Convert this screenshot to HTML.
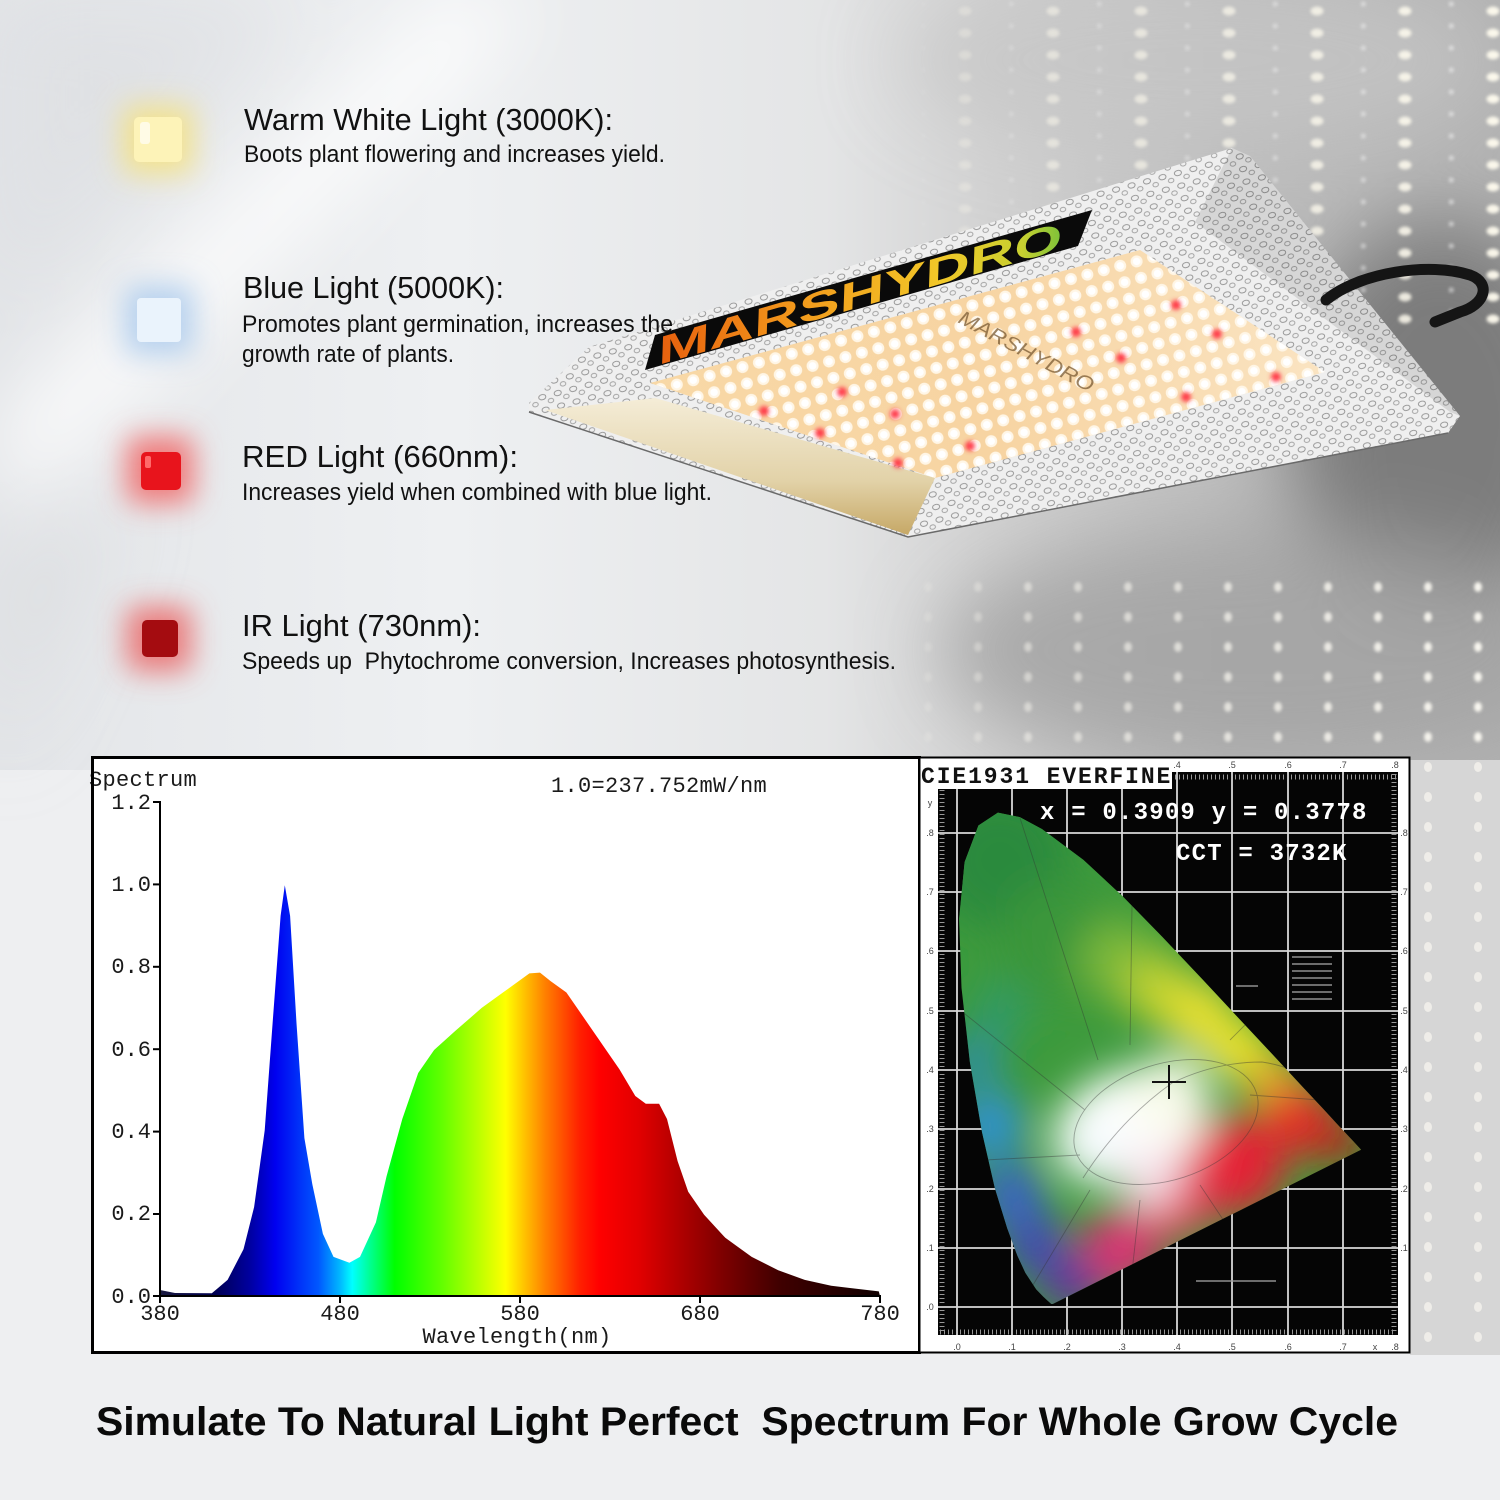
<!DOCTYPE html>
<html><head><meta charset="utf-8">
<style>
html,body{margin:0;padding:0;width:1500px;height:1500px;overflow:hidden;background:#eceef0;}
svg{display:block}
</style></head><body>
<svg width="1500" height="1500" viewBox="0 0 1500 1500" xmlns="http://www.w3.org/2000/svg">
<defs>
  <linearGradient id="bgH" x1="0" y1="0" x2="1500" y2="0" gradientUnits="userSpaceOnUse">
    <stop offset="0" stop-color="#e3e5e8"/>
    <stop offset="0.3" stop-color="#eef0f2"/>
    <stop offset="0.55" stop-color="#e4e5e6"/>
    <stop offset="0.66" stop-color="#d2d2d2"/>
    <stop offset="0.82" stop-color="#bdbdbd"/>
    <stop offset="1" stop-color="#b2b2b2"/>
  </linearGradient>
  <filter id="b40" x="-50%" y="-50%" width="200%" height="200%"><feGaussianBlur stdDeviation="40"/></filter>
  <filter id="b20" x="-50%" y="-50%" width="200%" height="200%"><feGaussianBlur stdDeviation="20"/></filter>
  <filter id="b15" x="-50%" y="-50%" width="200%" height="200%"><feGaussianBlur stdDeviation="14"/></filter>
  <filter id="b3" x="-50%" y="-50%" width="200%" height="200%"><feGaussianBlur stdDeviation="2.5"/></filter>
  <filter id="b1" x="-50%" y="-50%" width="200%" height="200%"><feGaussianBlur stdDeviation="1.5"/></filter>

  <pattern id="bok" width="88" height="22" patternUnits="userSpaceOnUse" patternTransform="translate(921,0)">
    <ellipse cx="44" cy="11" rx="6.5" ry="4.5" fill="#fffcef"/>
    <ellipse cx="2" cy="4" rx="3" ry="2.5" fill="#fafafa" opacity="0.6"/>
  </pattern>
  <pattern id="bok2" width="50" height="30" patternUnits="userSpaceOnUse" patternTransform="translate(1103,2)">
    <ellipse cx="25" cy="15" rx="4" ry="5" fill="#fffdf5"/>
  </pattern>
  <linearGradient id="fadeL" x1="870" y1="0" x2="1500" y2="0" gradientUnits="userSpaceOnUse">
    <stop offset="0" stop-color="#fff" stop-opacity="0"/>
    <stop offset="0.25" stop-color="#fff" stop-opacity="0.5"/>
    <stop offset="1" stop-color="#fff" stop-opacity="1"/>
  </linearGradient>
  <mask id="mR"><rect x="0" y="0" width="1500" height="760" fill="url(#fadeL)"/></mask>

  <pattern id="ham" width="16" height="13" patternUnits="userSpaceOnUse" patternTransform="rotate(-15)">
    <rect width="16" height="13" fill="#efefef"/>
    <ellipse cx="5" cy="4" rx="3.6" ry="2.6" fill="none" stroke="#8e8e8e" stroke-width="0.9"/>
    <ellipse cx="12.5" cy="9.5" rx="2.8" ry="2.2" fill="none" stroke="#9c9c9c" stroke-width="0.9"/>
  </pattern>
  <linearGradient id="boardG" x1="650" y1="380" x2="1320" y2="300" gradientUnits="userSpaceOnUse">
    <stop offset="0" stop-color="#f8d8a6"/>
    <stop offset="0.5" stop-color="#f7d4a2"/>
    <stop offset="1" stop-color="#fae4c2"/>
  </linearGradient>
  <pattern id="led" width="17" height="17" patternUnits="userSpaceOnUse" patternTransform="translate(650,383) rotate(-15)">
    <circle cx="8.5" cy="8.5" r="6" fill="#fff6e6"/>
    <circle cx="8.5" cy="8.5" r="3.8" fill="#ffffff"/>
  </pattern>
  <linearGradient id="goldG" x1="0" y1="400" x2="0" y2="535" gradientUnits="userSpaceOnUse">
    <stop offset="0" stop-color="#f4ecd6"/>
    <stop offset="0.6" stop-color="#e2d2a8"/>
    <stop offset="1" stop-color="#c6a866"/>
  </linearGradient>
  <linearGradient id="logoG" x1="0" y1="0" x2="420" y2="0" gradientUnits="userSpaceOnUse">
    <stop offset="0" stop-color="#e8600e"/>
    <stop offset="0.35" stop-color="#f29a1c"/>
    <stop offset="0.7" stop-color="#f2c828"/>
    <stop offset="0.9" stop-color="#c8d030"/>
    <stop offset="1" stop-color="#7cc23a"/>
  </linearGradient>

  <linearGradient id="spec" x1="160" y1="0" x2="880" y2="0" gradientUnits="userSpaceOnUse">
    <stop offset="0" stop-color="#1a1a40"/>
    <stop offset="0.076" stop-color="#000050"/>
    <stop offset="0.125" stop-color="#0000a0"/>
    <stop offset="0.16" stop-color="#0000f0"/>
    <stop offset="0.22" stop-color="#0058ff"/>
    <stop offset="0.25" stop-color="#00b8ff"/>
    <stop offset="0.267" stop-color="#00ffff"/>
    <stop offset="0.292" stop-color="#00ff90"/>
    <stop offset="0.326" stop-color="#00ff00"/>
    <stop offset="0.39" stop-color="#60ff00"/>
    <stop offset="0.445" stop-color="#c0ff00"/>
    <stop offset="0.48" stop-color="#ffff00"/>
    <stop offset="0.507" stop-color="#ffc000"/>
    <stop offset="0.535" stop-color="#ff8000"/>
    <stop offset="0.583" stop-color="#ff2000"/>
    <stop offset="0.61" stop-color="#ff0000"/>
    <stop offset="0.667" stop-color="#e00000"/>
    <stop offset="0.722" stop-color="#b00000"/>
    <stop offset="0.778" stop-color="#800000"/>
    <stop offset="0.86" stop-color="#400000"/>
    <stop offset="1" stop-color="#100000"/>
  </linearGradient>

  <clipPath id="shoe">
    <path d="M1052.8,1304 L1051.3,1304 L1047.4,1300.5 L1043.1,1296.5 L1036.2,1289.4 L1025.3,1272.7 L1017.3,1255.5 L1007.2,1228.3 L994.8,1188 L982,1132.1 L969.9,1062.3 L961.5,987.7 L959.1,918.7 L964.6,862.1 L978.4,825.5 L997.9,812.6 L1019.8,817.1 L1042.1,829.1 L1083.3,859.7 L1122.9,896.5 L1162.2,936.7 L1201.3,978.1 L1238.9,1018.5 L1273.4,1055.4 L1301.9,1086.1 L1323.2,1108.9 L1337.3,1124.2 L1352.5,1140.4 L1361.1,1149.7 Z"/>
  </clipPath>
</defs>

<!-- ===== BACKGROUND ===== -->
<rect x="0" y="0" width="1500" height="1500" fill="#eeeff1"/>
<rect x="0" y="0" width="1500" height="770" fill="url(#bgH)"/>
<g filter="url(#b40)">
  <ellipse cx="1440" cy="420" rx="150" ry="200" fill="#7c7c7c"/>
  <ellipse cx="1260" cy="650" rx="320" ry="120" fill="#a2a2a2" opacity="0.85"/>
  <ellipse cx="1200" cy="60" rx="300" ry="90" fill="#c6c6c6" opacity="0.7"/>
  <polygon points="440,0 540,0 60,470 0,500 0,420" fill="#ffffff" opacity="0.85"/>
  <polygon points="0,0 300,0 0,300" fill="#dcdee1" opacity="0.6"/>
  <polygon points="0,560 120,500 0,760" fill="#d8dadd" opacity="0.6"/>
</g>
<!-- bokeh -->
<g mask="url(#mR)" filter="url(#b1)" opacity="0.95">
  <rect x="900" y="0" width="600" height="330" fill="url(#bok)"/>
  <rect x="880" y="580" width="620" height="180" fill="url(#bok2)"/>
</g>
<rect x="1410" y="760" width="90" height="600" fill="#d6d6d6"/>
<rect x="1410" y="760" width="90" height="600" fill="url(#bok2)" opacity="0.6"/>
<rect x="0" y="1355" width="1500" height="145" fill="#eeeff1"/>

<!-- ===== ICONS ===== -->
<g filter="url(#b15)">
  <rect x="122" y="105" width="72" height="70" rx="10" fill="#f6e27a" opacity="0.8"/>
  <rect x="124" y="285" width="70" height="70" rx="10" fill="#a8c8ec" opacity="0.8"/>
  <rect x="126" y="436" width="68" height="68" rx="12" fill="#f07070" opacity="0.9"/>
  <rect x="126" y="606" width="66" height="66" rx="12" fill="#ea6a6a" opacity="0.85"/>
</g>
<rect x="134" y="117" width="48" height="45" rx="5" fill="#fdf3b8"/>
<rect x="140" y="122" width="10" height="22" rx="3" fill="#fffbe6"/>
<rect x="137" y="298" width="44" height="44" rx="4" fill="#eaf3fc"/>
<rect x="141" y="452" width="40" height="38" rx="5" fill="#e8141c"/>
<rect x="145" y="456" width="6" height="12" rx="2" fill="#ff6a6a"/>
<rect x="142" y="620" width="36" height="37" rx="5" fill="#a40c10"/>

<!-- ===== FIXTURE ===== -->
<g>
  <polygon points="529,403 589,347 1232,148 1250,156 1460,416 1448,433 908,537 529,412" fill="url(#ham)"/>
  <polygon points="1232,148 1250,156 1460,416 1450,412 1195,222" fill="#000" opacity="0.1"/>
  <polygon points="545,410 655,398 935,478 908,535" fill="url(#goldG)"/>
  <polygon points="650,383 1140,250 1325,372 935,478" fill="url(#boardG)"/>
  <polygon points="650,383 1140,250 1325,372 935,478" fill="url(#led)"/>
  <g filter="url(#b3)" fill="#ff3b4a">
    <circle cx="1176" cy="305" r="5"/><circle cx="1076" cy="332" r="5"/><circle cx="1217" cy="334" r="5"/>
    <circle cx="1121" cy="358" r="5"/><circle cx="1276" cy="377" r="5"/><circle cx="1186" cy="397" r="5"/>
    <circle cx="842" cy="392" r="5"/><circle cx="764" cy="411" r="5"/><circle cx="895" cy="414" r="5"/>
    <circle cx="820" cy="433" r="5"/><circle cx="970" cy="446" r="5"/><circle cx="898" cy="463" r="5"/>
  </g>
  <text transform="translate(957,322) rotate(28)" font-family="'Liberation Sans', sans-serif" font-style="italic" font-size="20" fill="#7a5a32" opacity="0.75" textLength="150" lengthAdjust="spacingAndGlyphs">MARSHYDRO</text>
  <polygon points="655,335 1092,210 1078,246 645,370" fill="#0a0a0a"/>
  <text transform="translate(658,365) rotate(-16) skewX(-18)" font-family="'Liberation Sans', sans-serif" font-weight="bold" font-size="38" fill="url(#logoG)" textLength="420" lengthAdjust="spacingAndGlyphs">MARSHYDRO</text>
  <polyline points="529,412 908,537 1448,433" fill="none" stroke="#6a6a6a" stroke-width="1.5"/>
  <path d="M1326,300 C1360,272 1430,262 1470,275 C1492,283 1485,305 1460,312 L1435,322" fill="none" stroke="#151515" stroke-width="11" stroke-linecap="round"/>
</g>

<!-- ===== TEXT ===== -->
<g font-family="'Liberation Sans Narrow', 'Liberation Sans', Arial, sans-serif" fill="#111">
  <text x="244" y="130" font-size="31" textLength="369" lengthAdjust="spacingAndGlyphs">Warm White Light (3000K):</text>
  <text x="244" y="162" font-size="24" textLength="421" lengthAdjust="spacingAndGlyphs">Boots plant flowering and increases yield.</text>
  <text x="243" y="298" font-size="31" textLength="261" lengthAdjust="spacingAndGlyphs">Blue Light (5000K):</text>
  <text x="242" y="332" font-size="24" textLength="431" lengthAdjust="spacingAndGlyphs">Promotes plant germination, increases the</text>
  <text x="242" y="362" font-size="24" textLength="212" lengthAdjust="spacingAndGlyphs">growth rate of plants.</text>
  <text x="242" y="467" font-size="31" textLength="276" lengthAdjust="spacingAndGlyphs">RED Light (660nm):</text>
  <text x="242" y="500" font-size="24" textLength="470" lengthAdjust="spacingAndGlyphs">Increases yield when combined with blue light.</text>
  <text x="242" y="636" font-size="31" textLength="239" lengthAdjust="spacingAndGlyphs">IR Light (730nm):</text>
  <text x="242" y="669" font-size="24" textLength="654" lengthAdjust="spacingAndGlyphs" xml:space="preserve">Speeds up  Phytochrome conversion, Increases photosynthesis.</text>
</g>

<!-- ===== SPECTRUM CHART ===== -->
<rect x="92" y="757" width="827" height="595" fill="#ffffff"/>
<path d="M160,1296 L160,1290 L175,1293 L211.8,1293.3 L227.6,1279.9 L243.5,1249.3 L254.1,1207.1 L264.7,1130.5 L272.6,1023.2 L280.6,915.9 L284.8,885.3 L290.1,915.9 L296.5,1023.2 L304.4,1138.1 L312.3,1184.1 L322.9,1233.9 L333.5,1256.9 L349.4,1262.7 L360,1256.9 L375.9,1222.4 L386.5,1176.5 L402.3,1119 L418.2,1073 L434.1,1050 L455.3,1030.9 L481.7,1007.9 L508.2,988.7 L529.4,973.4 L540,972.6 L550.6,981.1 L566.4,992.5 L582.3,1015.5 L603.5,1046.2 L619.4,1069.2 L635.3,1096 L645.8,1103.7 L659.1,1103.7 L667,1119 L677.6,1161.1 L688.2,1191.8 L704.1,1214.8 L725.3,1237.8 L751.7,1256.9 L778.2,1270.3 L804.7,1279.9 L831.2,1285.7 L878.8,1291.4 L880,1296 Z" fill="url(#spec)"/>
<g stroke="#000" stroke-width="2" fill="none">
  <line x1="160" y1="801" x2="160" y2="1297"/>
  <line x1="159" y1="1296" x2="881" y2="1296"/>
  <line x1="153" y1="802" x2="160" y2="802"/>
  <line x1="153" y1="884.4" x2="160" y2="884.4"/>
  <line x1="153" y1="966.8" x2="160" y2="966.8"/>
  <line x1="153" y1="1049.2" x2="160" y2="1049.2"/>
  <line x1="153" y1="1131.6" x2="160" y2="1131.6"/>
  <line x1="153" y1="1214" x2="160" y2="1214"/>
  <line x1="153" y1="1296" x2="160" y2="1296"/>
  <line x1="160" y1="1296" x2="160" y2="1303"/>
  <line x1="340" y1="1296" x2="340" y2="1303"/>
  <line x1="520" y1="1296" x2="520" y2="1303"/>
  <line x1="700" y1="1296" x2="700" y2="1303"/>
  <line x1="880" y1="1296" x2="880" y2="1303"/>
</g>
<g font-family="'Liberation Mono', 'Courier New', monospace" font-size="22" fill="#1a1a1a">
  <text x="89" y="786" letter-spacing="0.3">Spectrum</text>
  <text x="551" y="792" letter-spacing="0.3">1.0=237.752mW/nm</text>
  <g text-anchor="end">
    <text x="151" y="809">1.2</text>
    <text x="151" y="891">1.0</text>
    <text x="151" y="973">0.8</text>
    <text x="151" y="1056">0.6</text>
    <text x="151" y="1138">0.4</text>
    <text x="151" y="1220">0.2</text>
    <text x="151" y="1303">0.0</text>
  </g>
  <g text-anchor="middle">
    <text x="160" y="1320">380</text>
    <text x="340" y="1320">480</text>
    <text x="520" y="1320">580</text>
    <text x="700" y="1320">680</text>
    <text x="880" y="1320">780</text>
    <text x="517" y="1343" letter-spacing="0.3">Wavelength(nm)</text>
  </g>
</g>
<rect x="92.5" y="757.5" width="827" height="595" fill="none" stroke="#000" stroke-width="3"/>

<!-- ===== CIE CHART ===== -->
<rect x="919" y="757" width="491" height="596" fill="#ffffff"/>
<rect x="938" y="772" width="460" height="563" fill="#050505"/>
<g stroke="#d8d8d8" stroke-width="1.8">
  <line x1="957" y1="772" x2="957" y2="1335"/><line x1="1012" y1="772" x2="1012" y2="1335"/>
  <line x1="1067" y1="772" x2="1067" y2="1335"/><line x1="1122" y1="772" x2="1122" y2="1335"/>
  <line x1="1177" y1="772" x2="1177" y2="1335"/><line x1="1232" y1="772" x2="1232" y2="1335"/>
  <line x1="1288" y1="772" x2="1288" y2="1335"/><line x1="1343" y1="772" x2="1343" y2="1335"/>
  <line x1="938" y1="833" x2="1398" y2="833"/><line x1="938" y1="892" x2="1398" y2="892"/>
  <line x1="938" y1="951" x2="1398" y2="951"/><line x1="938" y1="1011" x2="1398" y2="1011"/>
  <line x1="938" y1="1070" x2="1398" y2="1070"/><line x1="938" y1="1129" x2="1398" y2="1129"/>
  <line x1="938" y1="1189" x2="1398" y2="1189"/><line x1="938" y1="1248" x2="1398" y2="1248"/>
  <line x1="938" y1="1307" x2="1398" y2="1307"/>
</g>
<g stroke="#bdbdbd" stroke-width="5" stroke-dasharray="1 3" fill="none" opacity="0.8">
  <line x1="1175" y1="777" x2="1396" y2="777"/>
  <line x1="940" y1="1332" x2="1396" y2="1332"/>
  <line x1="942" y1="790" x2="942" y2="1334"/>
  <line x1="1394" y1="774" x2="1394" y2="1334"/>
</g>
<!-- legend block -->
<g fill="#9a9a9a" opacity="0.7">
  <rect x="1292" y="956" width="40" height="2"/><rect x="1292" y="963" width="40" height="2"/>
  <rect x="1292" y="970" width="40" height="2"/><rect x="1292" y="977" width="40" height="2"/>
  <rect x="1292" y="984" width="40" height="2"/><rect x="1292" y="991" width="40" height="2"/>
  <rect x="1292" y="998" width="40" height="2"/><rect x="1236" y="985" width="22" height="2"/>
  <rect x="1196" y="1280" width="80" height="2"/>
</g>
<!-- horseshoe colors -->
<g clip-path="url(#shoe)">
  <rect x="940" y="800" width="440" height="520" fill="#3d9a3c"/>
  <g filter="url(#b20)">
    <circle cx="1000" cy="860" r="70" fill="#2c8a3c"/>
    <circle cx="1060" cy="940" r="60" fill="#3a963a"/>
    <circle cx="1120" cy="960" r="40" fill="#7ab83a"/>
    <circle cx="1160" cy="990" r="35" fill="#c0d232"/>
    <circle cx="1200" cy="1015" r="35" fill="#e8e030"/>
    <circle cx="1240" cy="1050" r="30" fill="#f4e62a"/>
    <circle cx="1275" cy="1085" r="28" fill="#f2a82a"/>
    <circle cx="1300" cy="1120" r="35" fill="#e42a28"/>
    <circle cx="1340" cy="1143" r="22" fill="#c01a1a"/>
    <circle cx="1235" cy="1165" r="50" fill="#e42434"/>
    <circle cx="1175" cy="1200" r="40" fill="#e2405a"/>
    <circle cx="1120" cy="1250" r="40" fill="#d83472"/>
    <circle cx="1070" cy="1285" r="28" fill="#6232a0"/>
    <circle cx="1035" cy="1245" r="30" fill="#4444b8"/>
    <circle cx="1012" cy="1195" r="32" fill="#3a62c8"/>
    <circle cx="990" cy="1125" r="35" fill="#3090d0"/>
    <circle cx="975" cy="1060" r="25" fill="#2c8cb0"/>
    <circle cx="1000" cy="1010" r="25" fill="#2e9a6e"/>
    <ellipse cx="1130" cy="1125" rx="80" ry="55" fill="#ffffff" transform="rotate(-20 1130 1125)"/>
    <circle cx="1095" cy="1150" r="35" fill="#f4fafc"/>
    <circle cx="1170" cy="1095" r="40" fill="#f8faea"/>
    <circle cx="1150" cy="1180" r="30" fill="#f6e0e8"/>
  </g>
  <g fill="none" stroke="#333" stroke-width="0.9" opacity="0.4">
    <ellipse cx="1166" cy="1122" rx="95" ry="58" transform="rotate(-18 1166 1122)"/>
    <path d="M1083,1178 Q1120,1120 1172,1083 Q1215,1062 1262,1062 Q1290,1066 1310,1080"/>
    <line x1="1098" y1="1060" x2="1020" y2="818"/>
    <line x1="1130" y1="1045" x2="1132" y2="905"/>
    <line x1="1085" y1="1110" x2="960" y2="1010"/>
    <line x1="1080" y1="1155" x2="985" y2="1160"/>
    <line x1="1090" y1="1190" x2="1030" y2="1290"/>
    <line x1="1140" y1="1200" x2="1130" y2="1290"/>
    <line x1="1200" y1="1185" x2="1240" y2="1245"/>
    <line x1="1230" y1="1040" x2="1270" y2="1000"/>
    <line x1="1250" y1="1095" x2="1320" y2="1100"/>
  </g>
</g>
<g stroke="#111" stroke-width="2">
  <line x1="1152" y1="1082" x2="1186" y2="1082"/>
  <line x1="1169" y1="1065" x2="1169" y2="1099"/>
</g>
<g font-family="'Liberation Mono', 'Courier New', monospace" font-weight="bold" fill="#ffffff" font-size="24">
  <text x="1040" y="819" letter-spacing="1.2">x = 0.3909 y = 0.3778</text>
  <text x="1176" y="860" letter-spacing="1.2">CCT = 3732K</text>
</g>
<rect x="919" y="758" width="253" height="31" fill="#ffffff"/>
<text x="921" y="783" font-family="'Liberation Mono', 'Courier New', monospace" font-weight="bold" font-size="23" letter-spacing="1.9" fill="#111">CIE1931 EVERFINE</text>
<g font-family="'Liberation Sans', sans-serif" font-size="9" fill="#444" text-anchor="middle">
  <text x="957" y="1350">.0</text><text x="1012" y="1350">.1</text><text x="1067" y="1350">.2</text>
  <text x="1122" y="1350">.3</text><text x="1177" y="1350">.4</text><text x="1232" y="1350">.5</text>
  <text x="1288" y="1350">.6</text><text x="1343" y="1350">.7</text><text x="1375" y="1350">x</text><text x="1395" y="1350">.8</text>
  <text x="1177" y="768">.4</text><text x="1232" y="768">.5</text><text x="1288" y="768">.6</text>
  <text x="1343" y="768">.7</text><text x="1395" y="768">.8</text>
  <text x="930" y="806">y</text><text x="930" y="836">.8</text><text x="930" y="895">.7</text>
  <text x="930" y="954">.6</text><text x="930" y="1014">.5</text><text x="930" y="1073">.4</text>
  <text x="930" y="1132">.3</text><text x="930" y="1192">.2</text><text x="930" y="1251">.1</text>
  <text x="930" y="1310">.0</text>
  <text x="1404" y="836">.8</text><text x="1404" y="895">.7</text><text x="1404" y="954">.6</text>
  <text x="1404" y="1014">.5</text><text x="1404" y="1073">.4</text><text x="1404" y="1132">.3</text>
  <text x="1404" y="1192">.2</text><text x="1404" y="1251">.1</text>
</g>
<rect x="919.5" y="757.5" width="490" height="595" fill="none" stroke="#000" stroke-width="2"/>

<!-- ===== BOTTOM TITLE ===== -->
<text x="96" y="1435" font-family="'Liberation Sans Narrow', 'Liberation Sans', Arial, sans-serif" font-weight="bold" font-size="40" fill="#0a0a0a" textLength="1302" lengthAdjust="spacingAndGlyphs" xml:space="preserve">Simulate To Natural Light Perfect  Spectrum For Whole Grow Cycle</text>
</svg>
</body></html>
